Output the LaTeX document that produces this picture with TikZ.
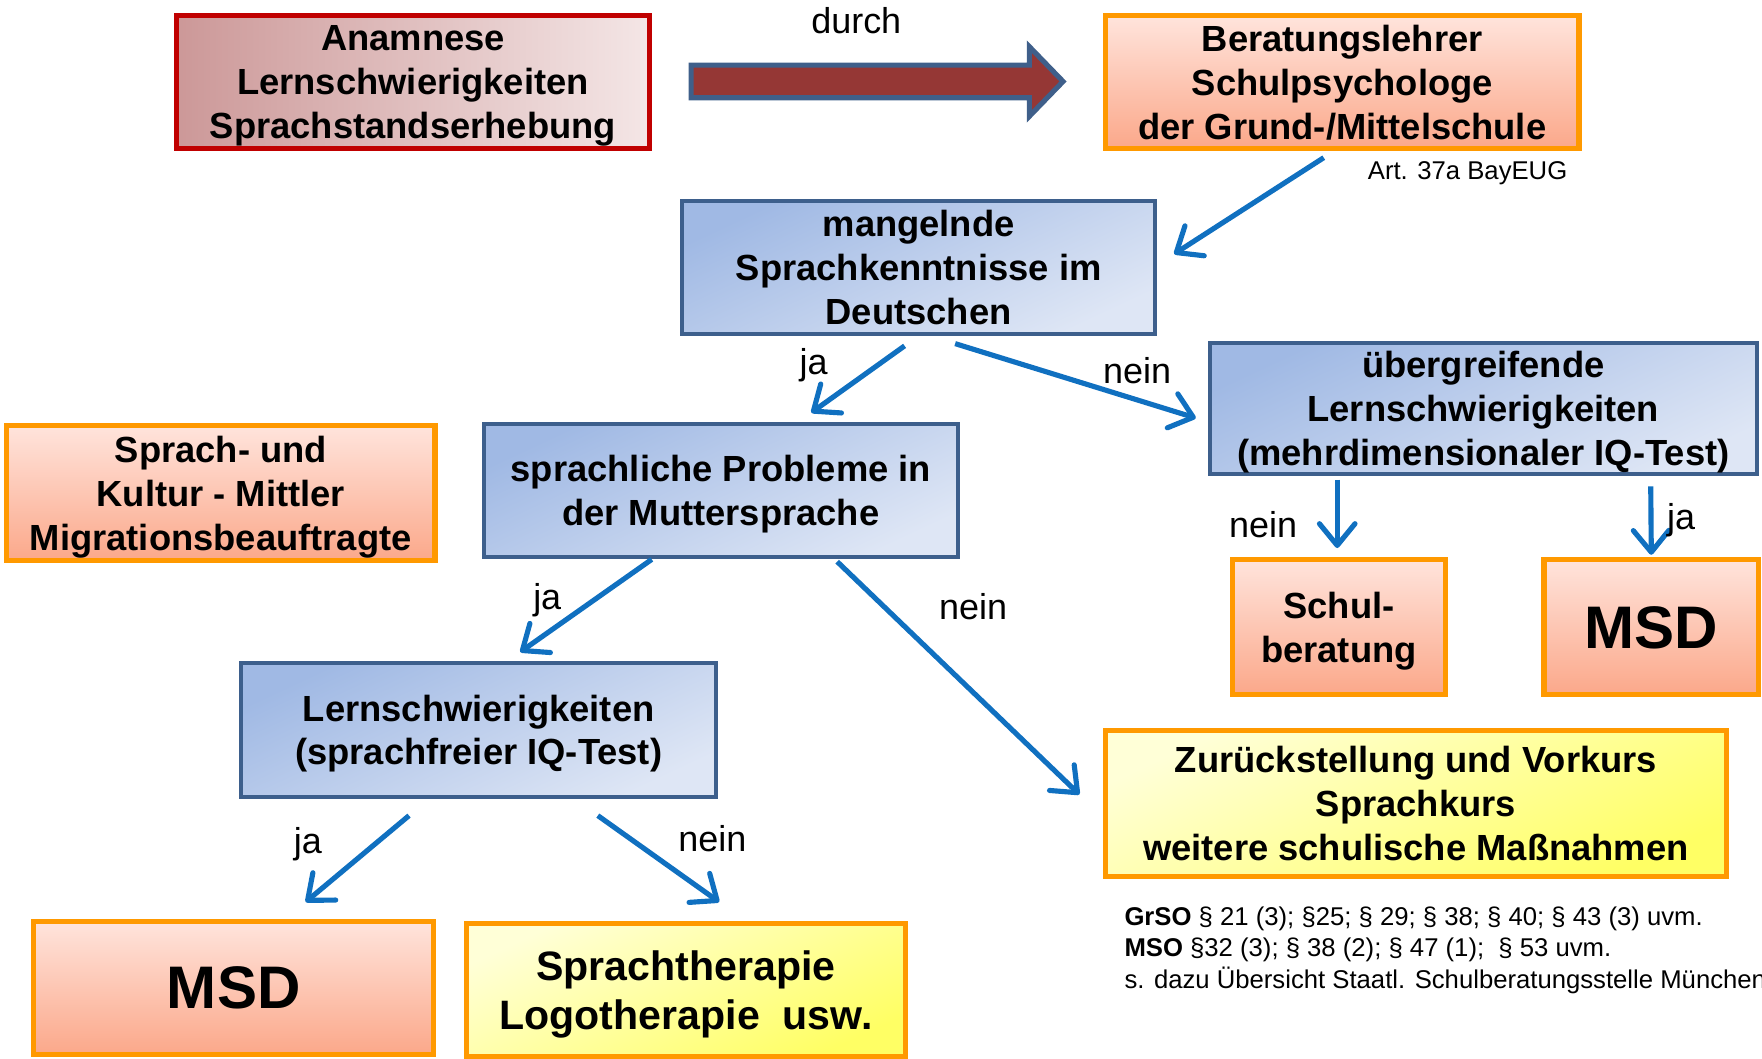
\documentclass[tikz,border=0pt]{standalone}
\usepackage{fontspec}
\setmainfont{Liberation Sans}
\usetikzlibrary{arrows.meta}

\definecolor{blueline}{RGB}{61,95,140}
\definecolor{bluetop}{RGB}{160,185,228}
\definecolor{bluebot}{RGB}{222,230,245}
\definecolor{orangeline}{RGB}{255,153,0}
\definecolor{salmontop}{RGB}{255,228,220}
\definecolor{salmonbot}{RGB}{251,168,138}
\definecolor{yellowtop}{RGB}{255,255,215}
\definecolor{yellowbot}{RGB}{255,255,100}
\definecolor{anamline}{RGB}{192,0,0}
\definecolor{anamleft}{RGB}{204,152,152}
\definecolor{anamright}{RGB}{244,230,230}
\definecolor{arrowfill}{RGB}{149,55,53}
\definecolor{arrowline}{RGB}{63,95,138}
\definecolor{connblue}{RGB}{16,112,192}

\begin{document}
\begin{tikzpicture}[
        x=0.01cm, y=-0.01cm,
        box/.style={inner sep=0pt, align=center, text depth=0pt, font=\fontsize{9.2}{11.1}\selectfont\bfseries},
        bluebox/.style={box, draw=blueline, line width=1pt, top color=bluetop, bottom color=bluebot, shading angle=25},
        salmonbox/.style={box, draw=orangeline, line width=1.3pt, top color=salmontop, bottom color=salmonbot},
        yellowbox/.style={box, draw=orangeline, line width=1.3pt, top color=yellowtop, bottom color=yellowbot, shading angle=25},
        anambox/.style={box, draw=anamline, line width=1.3pt, left color=anamleft, right color=anamright},
        bigarrow/.style={fill=arrowfill, draw=arrowline, line width=1.3pt, line join=miter},
        conn/.style={draw=connblue, line width=1.3pt, -{Straight Barb[round, length=5.5pt, width=9pt]}},
        lbl/.style={inner sep=0pt, font=\fontsize{9.1}{11}\selectfont},
        note/.style={inner sep=0pt, align=left, font=\fontsize{6.5}{7.97}\selectfont}
    ]
    \useasboundingbox (0,0) rectangle (1568,942);

    % Nodes
    \node (anam) [anambox, minimum width=4.21cm, minimum height=1.18cm] at (367.5,73)
        {Anamnese\\Lernschwierigkeiten\\Sprachstandserhebung};
    \node (berat) [salmonbox, minimum width=4.21cm, minimum height=1.18cm] at (1194.5,73)
        {Beratungslehrer\\Schulpsychologe\\der Grund-/Mittelschule};
    \node (mangel) [bluebox, minimum width=4.21cm, minimum height=1.18cm] at (817.5,238)
        {mangelnde\\Sprachkenntnisse im\\Deutschen};
    \node (uebergr) [bluebox, minimum width=4.86cm, minimum height=1.17cm] at (1320,363.5)
        {übergreifende\\Lernschwierigkeiten\\(mehrdimensionaler IQ-Test)};
    \node (mittler) [salmonbox, minimum width=3.81cm, minimum height=1.2cm] at (196.5,439)
        {Sprach- und\\Kultur - Mittler\\Migrationsbeauftragte};
    \node (sprachl) [bluebox, minimum width=4.21cm, minimum height=1.19cm] at (641.5,436.5)
        {sprachliche Probleme in\\der Muttersprache};
    \node (schulb) [salmonbox, minimum width=1.89cm, minimum height=1.2cm] at (1191.5,558)
        {Schul-\\beratung};
    \node (msdR) [salmonbox, minimum width=1.91cm, minimum height=1.2cm,
        font=\fontsize{15.2}{18}\selectfont\bfseries] at (1469.5,558) {MSD};
    \node (lernsch) [bluebox, minimum width=4.22cm, minimum height=1.19cm] at (426,649.5)
        {Lernschwierigkeiten\\(sprachfreier IQ-Test)};
    \node (zurueck) [yellowbox, minimum width=5.52cm, minimum height=1.3cm] at (1260,715)
        {Zurückstellung und Vorkurs\\Sprachkurs\\weitere schulische Maßnahmen};
    \node (msdL) [salmonbox, minimum width=3.56cm, minimum height=1.18cm,
        font=\fontsize{15.2}{18}\selectfont\bfseries] at (208,879) {MSD};
    \node (sprachth) [yellowbox, minimum width=3.91cm, minimum height=1.18cm,
        font=\fontsize{10.4}{12.5}\selectfont\bfseries] at (610.5,881)
        {Sprachtherapie\\Logotherapie\ \ usw.};

    % Notes
    \node (durch) [lbl] at (762,18) {durch};
    \node (bayeug) [note] at (1306,154) {Art. 37a BayEUG};
    \node (paragr) [note, anchor=north west] at (1000,806)
        {\textbf{GrSO} § 21 (3); §25; § 29; § 38; § 40; § 43 (3) uvm.\\
         \textbf{MSO} §32 (3); § 38 (2); § 47 (1);\ \ § 53 uvm.\\
         s. dazu Übersicht Staatl. Schulberatungsstelle München};

    % Arrows
    \draw[bigarrow] (615,58) -- (916,58) -- (916,41.5) -- (946,72.5)
        -- (916,103.5) -- (916,87) -- (615,87) -- cycle;
    \draw[conn] ([shift={(-16.5,6)}]berat.south) -- ([shift={(15,-12)}]mangel.east);
    \draw[conn] ([shift={(-12.5,9)}]mangel.south) -- ([shift={(80.5,-8)}]sprachl.north)
        node[lbl] at (724,325) {ja};
    \draw[conn] ([shift={(32.5,7)}]mangel.south) -- ([shift={(-11,8.5)}]uebergr.west)
        node[lbl] at (1012,330) {nein};
    \draw[conn] ([shift={(-130,3)}]uebergr.south) -- ([shift={(-1.5,-8)}]schulb.north)
        node[lbl] at (1124,467) {nein};
    \draw[conn] ([shift={(149,9)}]uebergr.south) -- ([shift={(0,-2)}]msdR.north)
        node[lbl] at (1496,463) {ja};
    \draw[conn] ([shift={(-61.5,0)}]sprachl.south) -- ([shift={(37,-8)}]lernsch.north)
        node[lbl] at (487,534) {ja};
    \draw[conn] ([shift={(103.5,2)}]sprachl.south) -- ([shift={(-21,-8)}]zurueck.west)
        node[lbl] at (866,540) {nein};
    \draw[conn] ([shift={(-62,15)}]lernsch.south) -- ([shift={(64,-15)}]msdL.north)
        node[lbl] at (274,751) {ja};
    \draw[conn] ([shift={(106,15)}]lernsch.south) -- ([shift={(29.5,-17)}]sprachth.north)
        node[lbl] at (634,746) {nein};

\end{tikzpicture}
\end{document}
